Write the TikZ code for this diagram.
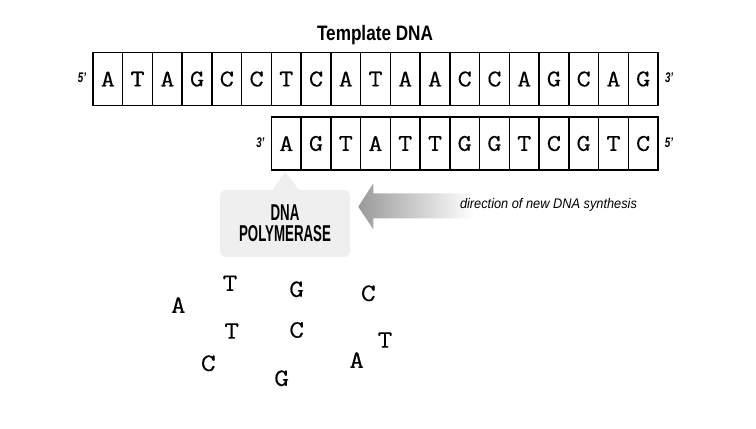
\documentclass[tikz,border=0pt]{standalone}
\usepackage{fontspec}
\usepackage{graphicx}
\setmainfont{Liberation Sans}
\newfontfamily\cellfont[FakeBold=0.4,FakeStretch=1.15]{Latin Modern Mono}
\definecolor{polyfill}{HTML}{EFEFEF}
\definecolor{arrowdark}{HTML}{9A9A9A}
\begin{document}
\begin{tikzpicture}[x=1bp,y=-1bp,
  cell/.style={draw, line width=1.5bp, minimum width=29.74bp, minimum height=53bp, inner sep=0pt,
    font=\cellfont\fontsize{24}{24}\selectfont},
  endlab/.style={inner sep=0pt, font=\bfseries\itshape\fontsize{14}{14}\selectfont},
  freebase/.style={inner sep=0pt, font=\cellfont\fontsize{25}{25}\selectfont},
  polybox/.style={fill=polyfill, rounded corners=6bp, minimum width=130bp, minimum height=67bp,
    align=center, font=\bfseries\fontsize{23}{22}\selectfont}]
\useasboundingbox (0,0) rectangle (756,428);
% title
\node[inner sep=0pt, font=\bfseries\fontsize{21}{21}\selectfont] (title) at (375,35)
  {\resizebox{116bp}{\height}{Template DNA}};
% template strand
\foreach \b [count=\i] in {A,T,A,G,C,C,T,C,A,T,A,A,C,C,A,G,C,A,G}
  \node[cell] (t\i) at ({93+29.74*(\i-0.5)},79) {\b};
% new strand
\foreach \b [count=\i] in {A,G,T,A,T,T,G,G,T,C,G,T,C}
  \node[cell] (n\i) at ({271.4+29.74*(\i-0.5)},143.5) {\b};
% end labels
\node[endlab, anchor=east] (t5p) at ([xshift=-6bp,yshift=1bp]t1.west) {\scalebox{0.7}[1]{5'}};
\node[endlab, anchor=west] (t3p) at ([xshift=6bp,yshift=1bp]t19.east) {\scalebox{0.7}[1]{3'}};
\node[endlab, anchor=east] (n3p) at ([xshift=-6bp,yshift=1bp]n1.west) {\scalebox{0.7}[1]{3'}};
\node[endlab, anchor=west] (n5p) at ([xshift=6bp,yshift=1bp]n13.east) {\scalebox{0.7}[1]{5'}};
% DNA polymerase callout
\fill[polyfill] (272,191) -- (285,172) -- (300,191) -- cycle;
\node[polybox] (poly) at (285,223.5)
  {\scalebox{0.58}[1]{DNA}\\[-1bp]\scalebox{0.58}[1]{POLYMERASE}};
% direction arrow
\shade[left color=arrowdark, right color=white]
  (358.3,206.7) -- (373.3,183.3) -- (373.3,193.3) -- (473,193.3) -- (473,218.3)
  -- (373.3,218.3) -- (373.3,229.3) -- cycle;
\node[inner sep=0pt, font=\itshape\fontsize{14}{14}\selectfont] (dir) at (548.5,205)
  {\resizebox{177bp}{\height}{direction of new DNA synthesis}};
% free nucleotides
\node[freebase] (f1) at (178.3,305) {A};
\node[freebase] (f2) at (230,283.3) {T};
\node[freebase] (f3) at (296.7,289.3) {G};
\node[freebase] (f4) at (368.3,293.3) {C};
\node[freebase] (f5) at (231.7,331) {T};
\node[freebase] (f6) at (296.7,330) {C};
\node[freebase] (f7) at (385,340) {T};
\node[freebase] (f8) at (208.3,363.3) {C};
\node[freebase] (f9) at (356.7,360) {A};
\node[freebase] (f10) at (281.7,378.3) {G};
\end{tikzpicture}
\end{document}
